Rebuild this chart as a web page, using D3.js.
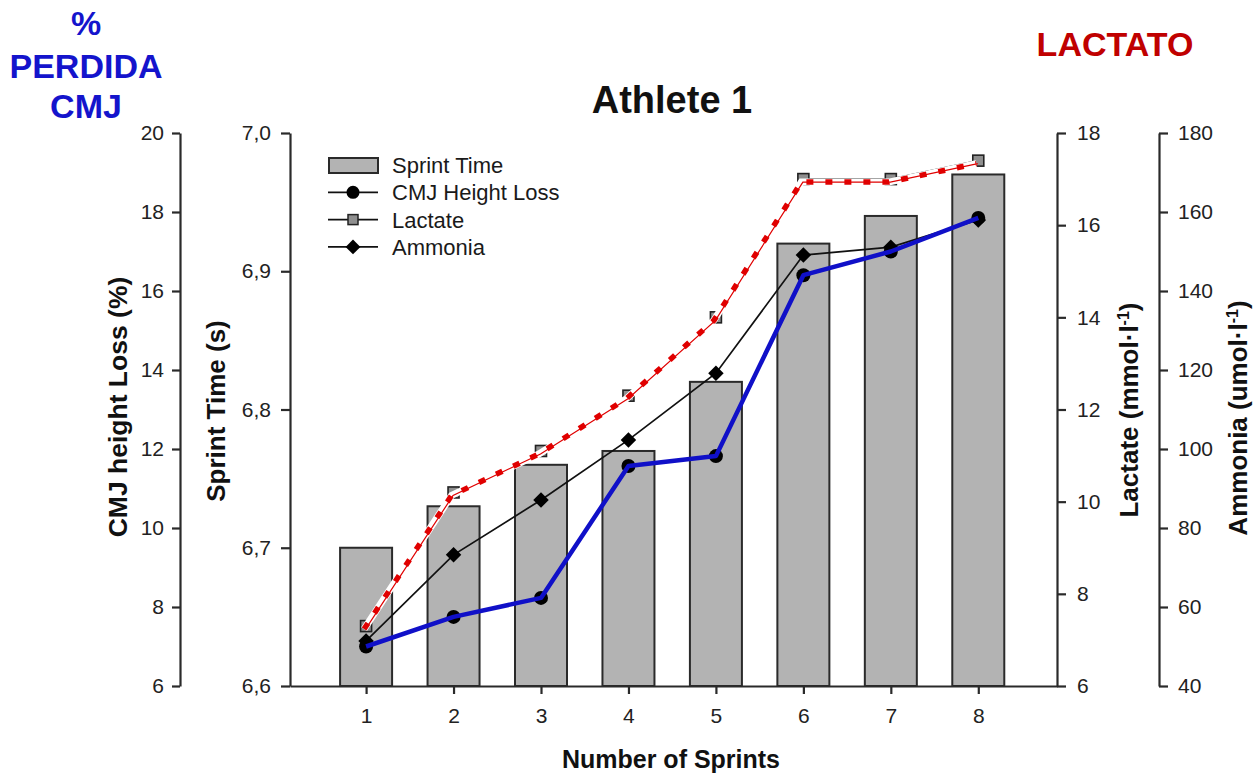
<!DOCTYPE html>
<html>
<head>
<meta charset="utf-8">
<script src="https://cdn.jsdelivr.net/npm/d3@7"></script>
<style>
  html, body { margin: 0; padding: 0; background: #fff; }
  svg { display: block; font-family: "Liberation Sans", Arial, sans-serif; }
</style>
</head>
<body>
<svg id="chart" width="1259" height="776"></svg>
<script>
// ---- data ----
const sprints = [1, 2, 3, 4, 5, 6, 7, 8];
const sprintTime = [6.70, 6.73, 6.76, 6.77, 6.82, 6.92, 6.94, 6.97];
const cmjLoss = [7.0, 7.75, 8.23, 11.57, 11.82, 16.4, 17.0, 17.85];
const lactate = [7.3, 10.2, 11.1, 12.3, 14.0, 17.0, 17.0, 17.4];
const ammonia = [51.4, 73.2, 87.1, 102.3, 119.2, 149.1, 151.1, 158.0];

const cmjTicks = [6, 8, 10, 12, 14, 16, 18, 20];
const sprintTicks = [6.6, 6.7, 6.8, 6.9, 7.0];
const lactateTicks = [6, 8, 10, 12, 14, 16, 18];
const ammoniaTicks = [40, 60, 80, 100, 120, 140, 160, 180];
const legendItems = ["Sprint Time", "CMJ Height Loss", "Lactate", "Ammonia"];

// ---- layout ----
const svg = d3.select("#chart");
const yTop = 133, yBottom = 686;
const xLeft = 290, xRight = 1057;
const cmjAxisX = 180, ammAxisX = 1159;

const x = d3.scaleLinear().domain([0.13, 8.9]).range([xLeft, xRight]);
const yCmj = d3.scaleLinear().domain([6, 20]).range([yBottom, yTop]);
const ySprint = d3.scaleLinear().domain([6.6, 7.0]).range([yBottom, yTop]);
const yLac = d3.scaleLinear().domain([6, 18]).range([yBottom, yTop]);
const yAmm = d3.scaleLinear().domain([40, 180]).range([yBottom, yTop]);

const axisColor = "#2a2a2a";
const tickFont = 21;

function styleAxis(g) {
  g.selectAll(".domain").attr("stroke", axisColor).attr("stroke-width", 2.2);
  g.selectAll(".tick line").attr("stroke", axisColor).attr("stroke-width", 2.2);
  g.selectAll(".tick text").attr("fill", "#222").style("font-size", tickFont + "px")
    .style("font-family", "'Liberation Sans', Arial, sans-serif");
}

// ---- bars ----
const barW = 52;
svg.append("g").selectAll("rect").data(sprints).join("rect")
  .attr("x", d => x(d) - barW / 2)
  .attr("y", (d, i) => ySprint(sprintTime[i]))
  .attr("width", barW)
  .attr("height", (d, i) => yBottom - ySprint(sprintTime[i]))
  .attr("fill", "#b3b3b3")
  .attr("stroke", "#2a2a2a")
  .attr("stroke-width", 2);

// ---- axes ----
const gCmj = svg.append("g").attr("transform", `translate(${cmjAxisX},0)`)
  .call(d3.axisLeft(yCmj).tickValues(cmjTicks).tickSize(8).tickSizeOuter(0).tickPadding(8));
styleAxis(gCmj);

const gSpr = svg.append("g").attr("transform", `translate(${xLeft},0)`)
  .call(d3.axisLeft(ySprint).tickValues(sprintTicks).tickSize(9).tickSizeOuter(0).tickPadding(10)
    .tickFormat(d => d3.format(".1f")(d).replace(".", ",")));
styleAxis(gSpr);

const gLac = svg.append("g").attr("transform", `translate(${xRight},0)`)
  .call(d3.axisRight(yLac).tickValues(lactateTicks).tickSize(9).tickSizeOuter(0).tickPadding(11));
styleAxis(gLac);

const gAmm = svg.append("g").attr("transform", `translate(${ammAxisX},0)`)
  .call(d3.axisRight(yAmm).tickValues(ammoniaTicks).tickSize(9).tickSizeOuter(0).tickPadding(10));
styleAxis(gAmm);

const gX = svg.append("g").attr("transform", `translate(0,${yBottom})`)
  .call(d3.axisBottom(x).tickValues(sprints).tickSize(8).tickSizeOuter(0).tickPadding(14)
    .tickFormat(d3.format("d")));
styleAxis(gX);

// ---- lines ----
const lineOf = (yScale, vals) => d3.line().x((d, i) => x(sprints[i])).y((d, i) => yScale(vals[i]))(vals);

// Ammonia
svg.append("path").attr("d", lineOf(yAmm, ammonia))
  .attr("fill", "none").attr("stroke", "#111").attr("stroke-width", 1.7);
svg.append("g").selectAll("path").data(ammonia).join("path")
  .attr("d", d3.symbol().type(d3.symbolSquare).size(120))
  .attr("transform", (d, i) => `translate(${x(sprints[i])},${yAmm(d)}) rotate(45)`)
  .attr("fill", "#000");

// Lactate
svg.append("path").attr("d", lineOf(yLac, lactate))
  .attr("fill", "none").attr("stroke", "#111").attr("stroke-width", 1.7);
svg.append("g").selectAll("rect").data(lactate).join("rect")
  .attr("x", (d, i) => x(sprints[i]) - 5.5)
  .attr("y", d => yLac(d) - 5.5)
  .attr("width", 11).attr("height", 11)
  .attr("fill", "#8f8f8f").attr("stroke", "#222").attr("stroke-width", 1.6);

// Red dashed highlight over lactate
const gRed = svg.append("g").attr("transform", "translate(-2,3)");
gRed.append("path").attr("d", lineOf(yLac, lactate))
  .attr("fill", "none").attr("stroke", "#fff").attr("stroke-width", 7);
gRed.append("path").attr("d", lineOf(yLac, lactate))
  .attr("fill", "none").attr("stroke", "#e00000").attr("stroke-width", 5.5)
  .attr("stroke-dasharray", "7,12");
gRed.append("path").attr("d", lineOf(yLac, lactate))
  .attr("fill", "none").attr("stroke", "#e00000").attr("stroke-width", 1.2)
  .attr("transform", "translate(1.5,0)");

// CMJ
svg.append("path").attr("d", lineOf(yCmj, cmjLoss))
  .attr("fill", "none").attr("stroke", "#111").attr("stroke-width", 1.7);
svg.append("g").selectAll("circle").data(cmjLoss).join("circle")
  .attr("cx", (d, i) => x(sprints[i])).attr("cy", d => yCmj(d)).attr("r", 7)
  .attr("fill", "#000");
svg.append("path").attr("d", lineOf(yCmj, cmjLoss))
  .attr("fill", "none").attr("stroke", "#1010c8").attr("stroke-width", 4.5)
  .attr("stroke-linejoin", "round");

// ---- legend ----
const lg = svg.append("g").attr("transform", "translate(328,165)");
const rowH = 27.3;
legendItems.forEach((name, i) => {
  const g = lg.append("g").attr("transform", `translate(0,${i * rowH})`);
  if (i === 0) {
    g.append("rect").attr("x", 1).attr("y", -7).attr("width", 49).attr("height", 15)
      .attr("fill", "#b3b3b3").attr("stroke", "#2a2a2a").attr("stroke-width", 2);
  } else {
    g.append("line").attr("x1", 0).attr("x2", 50).attr("y1", 0).attr("y2", 0)
      .attr("stroke", "#111").attr("stroke-width", 1.8);
    if (i === 1) g.append("circle").attr("cx", 25).attr("cy", 0).attr("r", 6.5).attr("fill", "#000");
    if (i === 2) g.append("rect").attr("x", 20).attr("y", -5).attr("width", 10).attr("height", 10)
      .attr("fill", "#8f8f8f").attr("stroke", "#222").attr("stroke-width", 1.5);
    if (i === 3) g.append("path").attr("d", d3.symbol().type(d3.symbolSquare).size(110))
      .attr("transform", "translate(25,0) rotate(45)").attr("fill", "#000");
  }
  g.append("text").attr("x", 64).attr("y", 8).text(name)
    .style("font-size", "22px").attr("fill", "#1a1a1a");
});

// ---- titles ----
svg.append("text").attr("x", 672).attr("y", 113).attr("text-anchor", "middle")
  .style("font-size", "38px").style("font-weight", "bold").attr("fill", "#111").text("Athlete 1");

const blue = "#1414cc";
[["%", 35], ["PERDIDA", 78], ["CMJ", 118]].forEach(([t, yy]) => {
  svg.append("text").attr("x", 86).attr("y", yy).attr("text-anchor", "middle")
    .style("font-size", "34px").style("font-weight", "bold").attr("fill", blue).text(t);
});
svg.append("text").attr("x", 1115).attr("y", 56).attr("text-anchor", "middle")
  .style("font-size", "34px").style("font-weight", "bold").attr("fill", "#c00000").text("LACTATO");

// axis titles
function vLabel(xx, yy, size) {
  return svg.append("text").attr("transform", `translate(${xx},${yy}) rotate(-90)`)
    .attr("text-anchor", "middle").style("font-size", size + "px").style("font-weight", "bold")
    .attr("fill", "#111");
}
vLabel(127, 407, 26.5).text("CMJ height Loss (%)");
vLabel(225, 411, 26).text("Sprint Time (s)");
const lacL = vLabel(1138, 410, 26);
lacL.append("tspan").text("Lactate (mmol·l");
lacL.append("tspan").attr("dy", -9).style("font-size", "16px").text("-1");
lacL.append("tspan").attr("dy", 9).text(")");
const ammL = vLabel(1247, 418, 26);
ammL.append("tspan").text("Ammonia (umol·l");
ammL.append("tspan").attr("dy", -9).style("font-size", "16px").text("-1");
ammL.append("tspan").attr("dy", 9).text(")");

svg.append("text").attr("x", 671).attr("y", 768).attr("text-anchor", "middle")
  .style("font-size", "25px").style("font-weight", "bold").attr("fill", "#111").text("Number of Sprints");
</script>
</body>
</html>
